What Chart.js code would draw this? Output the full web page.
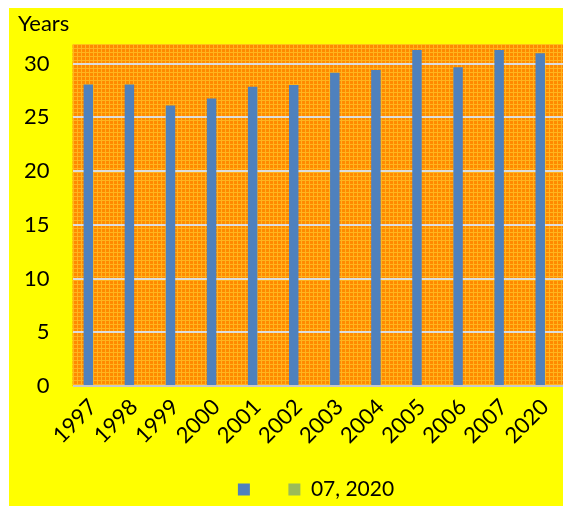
<!DOCTYPE html>
<html>
<head>
<meta charset="utf-8">
<script src="https://cdn.jsdelivr.net/npm/chart.js@4.4.1/dist/chart.umd.min.js"></script>
<style>
  html, body { margin: 0; padding: 0; background: #ffffff; overflow: hidden; width: 563px; height: 506px; }
  #wrap { position: absolute; left: 9px; top: 8px; width: 605px; height: 502px; background: #ffff00; }
  canvas { display: block; }
</style>
</head>
<body>
<div id="wrap"><canvas id="c" width="605" height="502"></canvas></div>
<script>
// ---- data ----
const categories = ['1997','1998','1999','2000','2001','2002','2003','2004','2005','2006','2007','2020'];
const seriesMain = [28.05, 28.05, 26.1, 26.75, 27.85, 28.0, 29.15, 29.4, 31.25, 29.65, 31.25, 30.95];
const seriesSecond = [];
const seriesLabels = ['', '07, 2020'];
const yTicks = [0, 5, 10, 15, 20, 25, 30];
const yTitle = 'Years';

// pattern for the plot background
function makePattern(ctx) {
  const t = document.createElement('canvas');
  t.width = 4; t.height = 4;
  const g = t.getContext('2d');
  g.fillStyle = '#ff8a00';
  g.fillRect(0, 0, 4, 4);
  g.fillStyle = '#ffb41e';
  g.fillRect(0, 0, 4, 1);
  g.fillRect(0, 0, 1, 4);
  return ctx.createPattern(t, 'repeat');
}

const plotBg = {
  id: 'plotBg',
  beforeDraw(chart) {
    const { ctx, chartArea: a } = chart;
    ctx.save();
    ctx.fillStyle = makePattern(ctx);
    ctx.fillRect(a.left, a.top, a.right - a.left, a.bottom - a.top);
    ctx.restore();
  }
};

const tickFont = { family: 'Lato', size: 22, weight: 'normal' };
const legendFont = { family: 'Lato', size: 21, weight: 'normal' };

new Chart(document.getElementById('c'), {
  type: 'bar',
  data: {
    labels: categories,
    datasets: [
      { label: seriesLabels[0], data: seriesMain, backgroundColor: '#4f81bd', borderWidth: 0, yAxisID: 'y' },
      { label: seriesLabels[1], data: seriesSecond, backgroundColor: '#9bbb59', borderWidth: 0, yAxisID: 'y' }
    ]
  },
  options: {
    responsive: false,
    animation: false,
    devicePixelRatio: 1,
    categoryPercentage: 0.46,
    barPercentage: 1,
    layout: { padding: { left: 9, right: 0, top: 0, bottom: 0 } },
    plugins: {
      title: { display: true, text: yTitle, align: 'start', color: '#000', font: tickFont, padding: { top: 3, bottom: 6.6 } },
      legend: {
        position: 'bottom',
        labels: { boxWidth: 12, boxHeight: 12, padding: 28, color: '#000', font: legendFont }
      },
      tooltip: { enabled: false }
    },
    scales: {
      x: {
        offset: true,
        grid: { display: false },
        border: { display: false },
        ticks: { color: '#000', font: tickFont, minRotation: 45, maxRotation: 45, autoSkip: false, padding: 0 },
        afterFit(s) { s.height = 65; }
      },
      y: {
        min: 0, max: 31.8,
        afterBuildTicks(s) { s.ticks = yTicks.map(v => ({ value: v })); },
        grid: { color: (c) => c.tick && c.tick.value === 0 ? '#c8c8c8' : '#dcdcdc', lineWidth: 2, drawTicks: false },
        border: { display: false },
        ticks: { color: '#000', font: tickFont, padding: 23 },
        afterFit(s) { s.width = 54.5; }
      },
      yR: {
        type: 'linear', position: 'right', display: true,
        grid: { display: false }, border: { display: false },
        ticks: { display: false },
        afterFit(s) { s.width = 48.5; }
      }
    }
  },
  plugins: [plotBg]
});
</script>
</body>
</html>
